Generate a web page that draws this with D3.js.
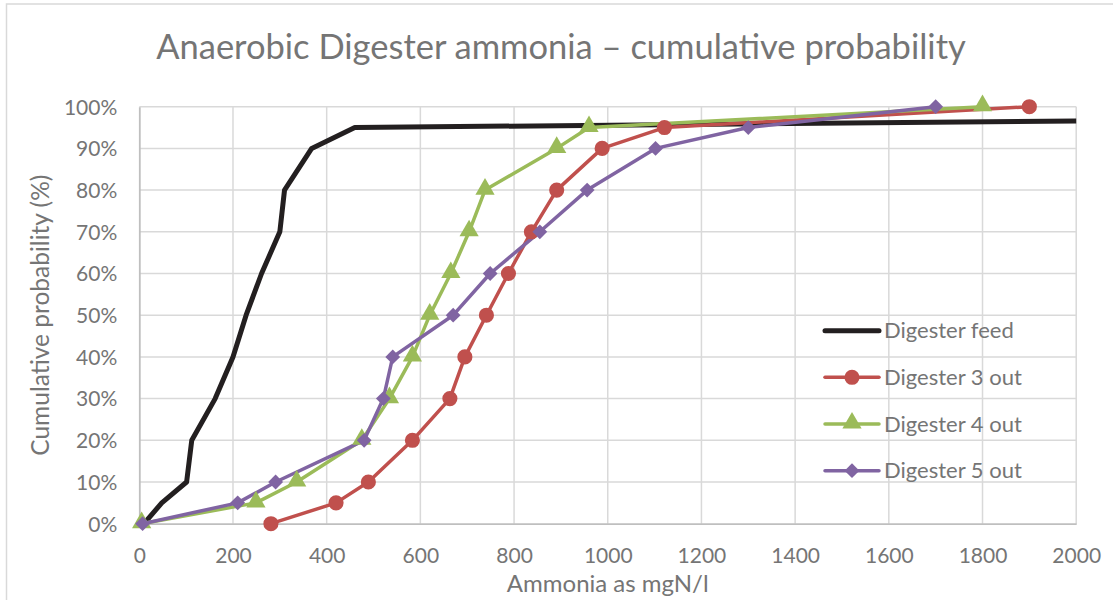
<!DOCTYPE html>
<html>
<head>
<meta charset="utf-8">
<script src="https://cdn.jsdelivr.net/npm/d3@7"></script>
<style>
  html, body { margin: 0; padding: 0; background: #fff; }
  svg { display: block; }
  text { font-family: Lato, "Open Sans", sans-serif; fill: #757575; }
</style>
</head>
<body>
<svg id="chart" width="1113" height="600"></svg>
<script>
// ---- data ----
const chartTitle = "Anaerobic Digester ammonia \u2013 cumulative probability";
const xAxisTitle = "Ammonia as mgN/l";
const yAxisTitle = "Cumulative probability (%)";
const xTicks = [0, 200, 400, 600, 800, 1000, 1200, 1400, 1600, 1800, 2000];
const yTicks = [0, 10, 20, 30, 40, 50, 60, 70, 80, 90, 100];
const seriesNames = ["Digester feed", "Digester 3 out", "Digester 4 out", "Digester 5 out"];

const feedX = [10, 48, 101, 112, 162, 200, 228, 261, 300, 310, 368, 460, 2000];
const feedP = [0, 5, 10, 20, 30, 40, 50, 60, 70, 80, 90, 95, 96.6];

const d3X = [281, 420, 489, 583, 663, 695, 741, 788, 837, 891, 988, 1121, 1900];
const d3P = [0, 5, 10, 20, 30, 40, 50, 60, 70, 80, 90, 95, 100];

const d4X = [5, 249, 336, 475, 534, 583, 620, 665, 704, 738, 891, 960, 1800];
const d4P = [0, 5, 10, 20, 30, 40, 50, 60, 70, 80, 90, 95, 100];

const d5X = [7, 210, 291, 480, 521, 541, 670, 749, 855, 956, 1102, 1300, 1700];
const d5P = [0, 5, 10, 20, 30, 40, 50, 60, 70, 80, 90, 95, 100];

(function () {
// ---- styles ----
const styles = [
  { color: "#231f20", width: 5, marker: null },
  { color: "#c0504d", width: 3.5, marker: "circle" },
  { color: "#9bbb59", width: 3.5, marker: "triangle" },
  { color: "#8064a2", width: 3.5, marker: "diamond" }
];
const seriesData = [
  feedX.map((v, i) => ({ x: v, p: feedP[i] })),
  d3X.map((v, i) => ({ x: v, p: d3P[i] })),
  d4X.map((v, i) => ({ x: v, p: d4P[i] })),
  d5X.map((v, i) => ({ x: v, p: d5P[i] }))
];

const svg = d3.select("#chart");
const pL = 139.3, pR = 1076.2, pT = 106.7, pB = 523.7;

const x = d3.scaleLinear().domain([0, 2000]).range([pL, pR]);
const y = d3.scaleLinear().domain([0, 100]).range([pB, pT]);

// outer chart border
svg.append("path")
  .attr("d", `M6.5,620 L6.5,4 L1130,4`)
  .attr("fill", "none").attr("stroke", "#d9d9d9").attr("stroke-width", 1.5);

// gridlines
svg.append("g").selectAll("line").data(yTicks.filter(d => d > 0)).join("line")
  .attr("x1", pL).attr("x2", pR)
  .attr("y1", d => y(d)).attr("y2", d => y(d))
  .attr("stroke", "#d9d9d9").attr("stroke-width", 1.5);
svg.append("g").selectAll("line").data(xTicks.filter(d => d > 0)).join("line")
  .attr("x1", d => x(d)).attr("x2", d => x(d))
  .attr("y1", pT).attr("y2", pB)
  .attr("stroke", "#d9d9d9").attr("stroke-width", 1.5);

// axes
const xAxis = svg.append("g").attr("transform", `translate(0,${pB})`)
  .call(d3.axisBottom(x).tickValues(xTicks).tickSize(0).tickPadding(24).tickFormat(d3.format("d")));
const yAxis = svg.append("g").attr("transform", `translate(${pL},0)`)
  .call(d3.axisLeft(y).tickValues(yTicks).tickSize(0).tickPadding(22).tickFormat(d => d + "%"));
[xAxis, yAxis].forEach(a => {
  a.select(".domain").attr("stroke", "#bfbfbf").attr("stroke-width", 1.8);
  a.selectAll("text").attr("font-size", 21).attr("fill", "#757575")
    .attr("font-family", "Lato, 'Open Sans', sans-serif");
});
yAxis.selectAll("text").attr("dy", "0.35em");

// titles
svg.append("text").attr("x", 561).attr("y", 58.5).attr("text-anchor", "middle")
  .attr("font-size", 34.5).text(chartTitle);
svg.append("text").attr("x", (pL + pR) / 2).attr("y", 592).attr("text-anchor", "middle")
  .attr("font-size", 24).text(xAxisTitle);
svg.append("text").attr("transform", `translate(49,${(pT + pB) / 2}) rotate(-90)`)
  .attr("text-anchor", "middle").attr("font-size", 24.5).text(yAxisTitle);

// lines
const line = d3.line().x(d => x(d.x)).y(d => y(d.p));
const plot = svg.append("g");
seriesData.forEach((data, i) => {
  plot.append("path").datum(data).attr("d", line)
    .attr("fill", "none").attr("stroke", styles[i].color)
    .attr("stroke-width", styles[i].width).attr("stroke-linejoin", "round");
});

function markerPath(m) {
  if (m === "diamond") return d3.symbol().type(d3.symbolSquare).size(110)();
  if (m === "circle") return d3.symbol().type(d3.symbolCircle).size(180)();
  return d3.symbol().type(d3.symbolTriangle).size(160)();
}
function markerTransform(m, cx, cy) {
  return `translate(${cx},${cy + (m === "triangle" ? -1 : 0)})` + (m === "diamond" ? " rotate(45)" : "");
}
seriesData.forEach((data, i) => {
  const m = styles[i].marker;
  if (!m) return;
  plot.append("g").selectAll("path").data(data).join("path")
    .attr("d", markerPath(m))
    .attr("transform", d => markerTransform(m, x(d.x), y(d.p)))
    .attr("fill", styles[i].color);
});

// legend
const legendRows = [330.7, 377.3, 424, 470.7];
const lg = svg.append("g");
seriesNames.forEach((name, i) => {
  const ry = legendRows[i];
  lg.append("line").attr("x1", 825).attr("x2", 879).attr("y1", ry).attr("y2", ry)
    .attr("stroke", styles[i].color).attr("stroke-width", styles[i].width)
    .attr("stroke-linecap", "round");
  const m = styles[i].marker;
  if (m) {
    lg.append("path").attr("d", markerPath(m))
      .attr("transform", markerTransform(m, 852, ry))
      .attr("fill", styles[i].color);
  }
  lg.append("text").attr("x", 884).attr("y", ry).attr("dy", "0.35em")
    .attr("font-size", 22).text(name);
});
})();
</script>
</body>
</html>
